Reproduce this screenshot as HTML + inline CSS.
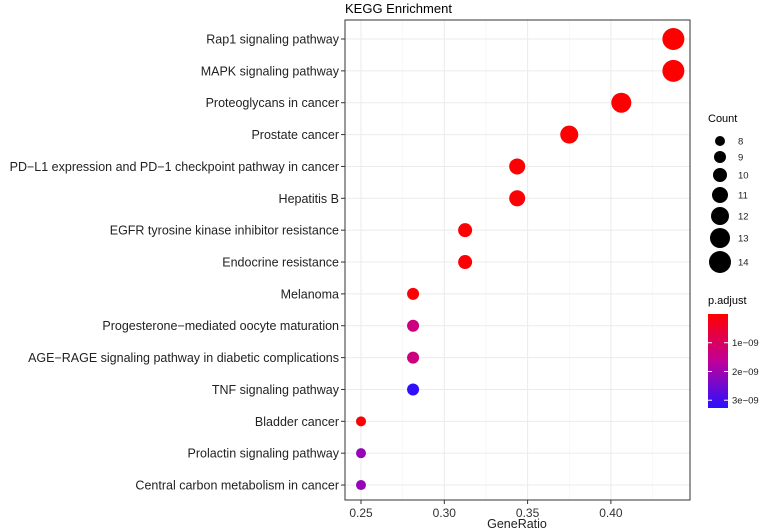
<!DOCTYPE html>
<html><head><meta charset="utf-8"><style>
html,body{margin:0;padding:0;background:#fff;}
svg{display:block;font-family:"Liberation Sans",Arial,sans-serif;}
</style></head><body>
<svg id="chart" width="760" height="531" xmlns="http://www.w3.org/2000/svg">
<defs><linearGradient id="pg" x1="0" y1="0" x2="0" y2="1">
<stop offset="0" stop-color="#ff0000"/><stop offset="0.5" stop-color="#c0009a"/><stop offset="1" stop-color="#2a10ff"/></linearGradient></defs>
<text x="345" y="13" font-size="13" fill="#000">KEGG Enrichment</text>
<rect x="345" y="20" width="345" height="480" fill="#fff"/>
<g id="grid"></g><g id="yaxis"></g><g id="xaxis"></g><g id="dots"></g>
<rect x="345" y="20" width="345" height="480" fill="none" stroke="#333" stroke-width="1"/>
<text x="517" y="528" font-size="12.5" text-anchor="middle" fill="#222">GeneRatio</text>
<g id="legend"></g>
<text x="708" y="122" font-size="11" fill="#000">Count</text>
<text x="708" y="304" font-size="11" fill="#000">p.adjust</text>
<rect x="708" y="314" width="20" height="94" fill="url(#pg)"/>
<g id="cbticks"></g>
</svg>
<script>
const categories=["Rap1 signaling pathway","MAPK signaling pathway","Proteoglycans in cancer","Prostate cancer","PD\u2212L1 expression and PD\u22121 checkpoint pathway in cancer","Hepatitis B","EGFR tyrosine kinase inhibitor resistance","Endocrine resistance","Melanoma","Progesterone\u2212mediated oocyte maturation","AGE\u2212RAGE signaling pathway in diabetic complications","TNF signaling pathway","Bladder cancer","Prolactin signaling pathway","Central carbon metabolism in cancer"];
const geneRatio=[0.4375,0.4375,0.40625,0.375,0.34375,0.34375,0.3125,0.3125,0.28125,0.28125,0.28125,0.28125,0.25,0.25,0.25];
const counts=[14,14,13,12,11,11,10,10,9,9,9,9,8,8,8];
const pAdjust=[0.01e-9,0.01e-9,0.02e-9,0.02e-9,0.03e-9,0.05e-9,0.03e-9,0.03e-9,0.06e-9,1.35e-9,1.35e-9,3.2e-9,0.06e-9,2.1e-9,2.1e-9];
const xTicks=[0.25,0.30,0.35,0.40];
const xTickLabels=["0.25","0.30","0.35","0.40"];
const legendCounts=[8,9,10,11,12,13,14];
const cbTicks=[1e-9,2e-9,3e-9];
const cbTickLabels=["1e\u221209","2e\u221209","3e\u221209"];

const NS="http://www.w3.org/2000/svg";
const xS=v=>361+(v-0.25)/0.05*83.3;
const yS=i=>39+i*31.86;
const rS=c=>5+(c-8)*1.0;
const pMin=0,pMax=3.27e-9;
const cbY=p=>314+(p-pMin)/(pMax-pMin)*94;
function col(p){let t=Math.max(0,Math.min(1,(p-pMin)/(pMax-pMin)));
 const a=[255,0,0],m=[192,0,154],b=[42,16,255];let r;
 if(t<0.5){const u=t/0.5;r=a.map((v,k)=>Math.round(v+(m[k]-v)*u));}else{const u=(t-0.5)/0.5;r=m.map((v,k)=>Math.round(v+(b[k]-v)*u));}
 return `rgb(${r.join(',')})`;}
function mk(tag,attrs,parent){const e=document.createElementNS(NS,tag);for(const k in attrs)e.setAttribute(k,attrs[k]);parent.appendChild(e);return e;}
const grid=document.getElementById('grid'),ya=document.getElementById('yaxis'),xa=document.getElementById('xaxis'),dots=document.getElementById('dots'),lg=document.getElementById('legend'),cb=document.getElementById('cbticks');
xTicks.forEach((v,i)=>{
 const g=mk('line',{x1:xS(v),x2:xS(v),y1:20,y2:500,stroke:'#ebebeb','stroke-width':1},grid);
 
 const mv=v+0.025;const mg=mk('line',{x1:xS(mv),x2:xS(mv),y1:20,y2:500,stroke:'#f3f3f3','stroke-width':0.6},grid);
 
 const t=mk('line',{x1:xS(v),x2:xS(v),y1:500,y2:504,stroke:'#333'},xa);
 
 const l=mk('text',{x:xS(v),y:517,'font-size':12,'text-anchor':'middle',fill:'#333'},xa);l.textContent=xTickLabels[i];
 
});
categories.forEach((c,i)=>{
 const y=yS(i);
 const g=mk('line',{x1:345,x2:690,y1:y,y2:y,stroke:'#ebebeb','stroke-width':1},grid);
 
 const t=mk('line',{x1:341,x2:345,y1:y,y2:y,stroke:'#333'},ya);
 
 const l=mk('text',{x:339,y:y+4.5,'font-size':12.5,'text-anchor':'end',fill:'#222'},ya);l.textContent=c;
 
 const d=mk('circle',{cx:xS(geneRatio[i]),cy:y,r:rS(counts[i]),fill:col(pAdjust[i])},dots);
 
});
legendCounts.forEach((c,i)=>{
 const y=[141,157,175,195,216,238,262][i];
 const d=mk('circle',{cx:720,cy:y,r:rS(c),fill:'#000'},lg);
 
 const l=mk('text',{x:738,y:y+3.5,'font-size':9.5,fill:'#222'},lg);l.textContent=c;
 
});
cbTicks.forEach((p,i)=>{
 const y=cbY(p);
 const a=mk('line',{x1:708,x2:712,y1:y,y2:y,stroke:'#fff'},cb);
 const b=mk('line',{x1:724,x2:728,y1:y,y2:y,stroke:'#fff'},cb);
 const l=mk('text',{x:732,y:y+3.5,'font-size':9.5,fill:'#222'},cb);l.textContent=cbTickLabels[i];
 
});
</script>
</body></html>
